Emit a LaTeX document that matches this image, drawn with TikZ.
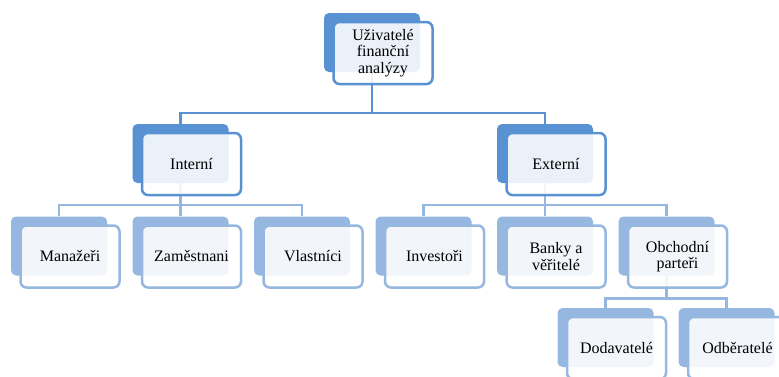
\documentclass[tikz,border=0pt]{standalone}
\usepackage{fontspec}
\setmainfont{Liberation Serif}
\usetikzlibrary{backgrounds}
\definecolor{darkblue}{RGB}{88,146,210}
\definecolor{lightblue}{RGB}{150,184,224}
\tikzset{
  backbox/.style={draw=none,fill=#1,rounded corners=5pt,
                  minimum width=96pt,minimum height=59pt},
  frontbox/.style={draw=#1,line width=2.5pt,fill=white,fill opacity=0.88,
                   text opacity=1,rounded corners=6pt,inner sep=1pt,
                   minimum width=99pt,minimum height=62pt,align=center,
                   font=\fontsize{16}{16.5}\selectfont},
  link/.style={draw=#1,line width=2.5pt}
}

\begin{document}
\begin{tikzpicture}[x=1pt,y=-1pt]
  \useasboundingbox (0,0) rectangle (779,376);
  \clip (0,0) rectangle (779,376);

  % top
  \node[backbox=darkblue]  (users)   at (372,42.5)    {};
  \node[frontbox=darkblue] (users-f) at (383,53)      {Uživatelé\\finanční\\analýzy};

  % interni / externi
  \node[backbox=darkblue]  (int)     at (180.5,153.5) {};
  \node[frontbox=darkblue] (int-f)   at (191.5,164)   {Interní};
  \node[backbox=darkblue]  (ext)     at (545,153.5)   {};
  \node[frontbox=darkblue] (ext-f)   at (556,164)     {Externí};

  % level 2
  \node[backbox=lightblue]  (man)    at (59,246)      {};
  \node[frontbox=lightblue] (man-f)  at (70,256.5)    {Manažeři};
  \node[backbox=lightblue]  (zam)    at (180.5,246)   {};
  \node[frontbox=lightblue] (zam-f)  at (191.5,256.5) {Zaměstnani};
  \node[backbox=lightblue]  (vla)    at (302,246)     {};
  \node[frontbox=lightblue] (vla-f)  at (313,256.5)   {Vlastníci};
  \node[backbox=lightblue]  (inv)    at (423.5,246)   {};
  \node[frontbox=lightblue] (inv-f)  at (434.5,256.5) {Investoři};
  \node[backbox=lightblue]  (ban)    at (545,246)     {};
  \node[frontbox=lightblue] (ban-f)  at (556,256.5)   {Banky a\\věřitelé};
  \node[backbox=lightblue]  (obc)    at (666.5,246)   {};
  \node[frontbox=lightblue] (obc-f)  at (677.5,256.5) {Obchodní\\parteři};

  % level 3
  \node[backbox=lightblue]  (dod)    at (605.5,337.5) {};
  \node[frontbox=lightblue] (dod-f)  at (616.5,348)   {Dodavatelé};
  \node[backbox=lightblue]  (odb)    at (726.5,337.5) {};
  \node[frontbox=lightblue] (odb-f)  at (737.5,348)   {Odběratelé};

  \begin{pgfonlayer}{background}
    \draw[link=darkblue] (users.south) -- ++(0,41) coordinate (j0) -| (int.north);
    \draw[link=darkblue] (j0) -| (ext.north);

    \draw[link=lightblue] (int.south) -- ++(0,22) coordinate (j1) -| (man.north);
    \draw[link=lightblue] (j1) -| (vla.north);
    \draw[link=lightblue] (j1) -- (zam.north);

    \draw[link=lightblue] (ext.south) -- ++(0,22) coordinate (j2) -| (inv.north);
    \draw[link=lightblue] (j2) -| (obc.north);
    \draw[link=lightblue] (j2) -- (ban.north);

    \draw[link=lightblue] (obc.south) -- ++(0,23) coordinate (j3) -| (dod.north);
    \draw[link=lightblue] (j3) -| (odb.north);
  \end{pgfonlayer}
\end{tikzpicture}
\end{document}
